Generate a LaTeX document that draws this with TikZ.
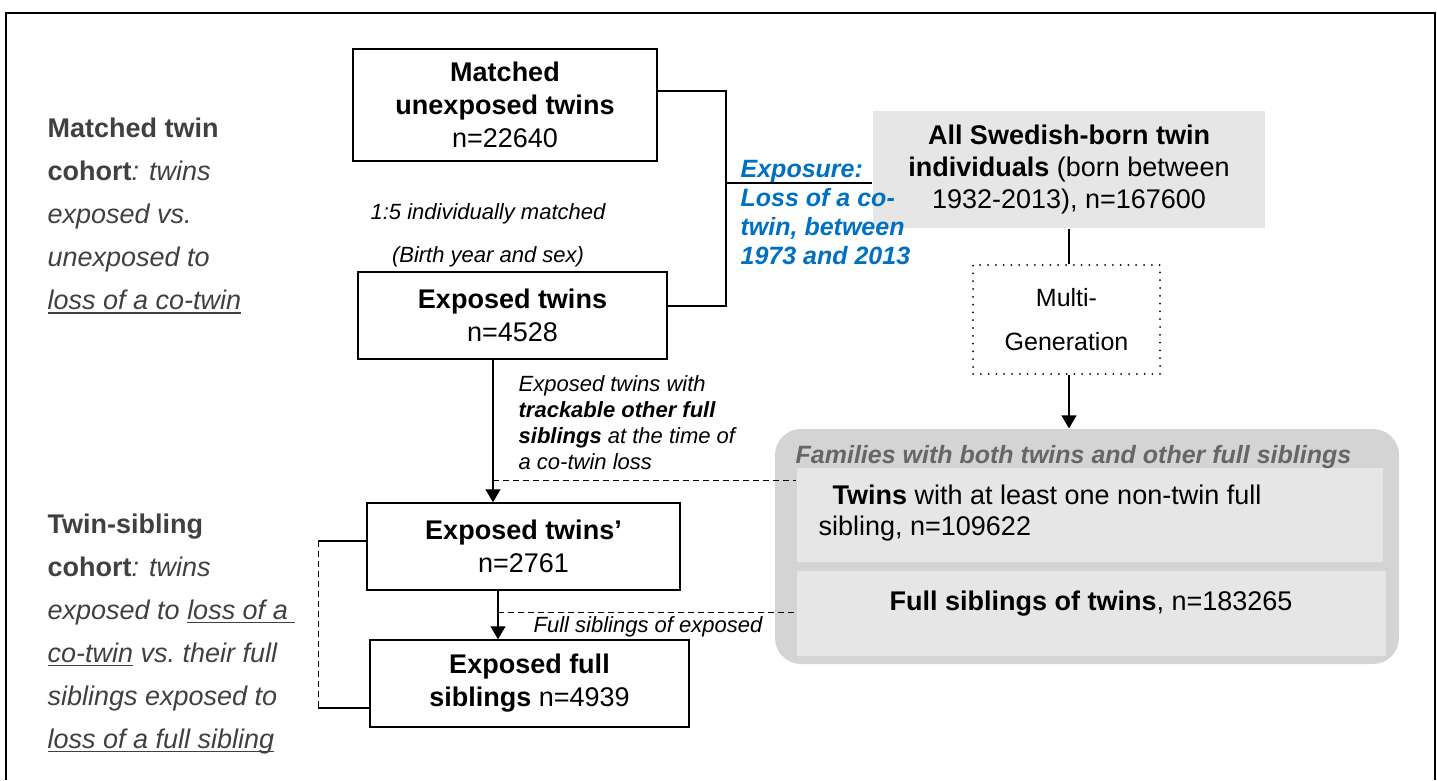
\documentclass[tikz,border=0pt]{standalone}
\usepackage{fontspec}
\setmainfont{Liberation Sans}
\usetikzlibrary{arrows.meta}
\definecolor{expblue}{HTML}{0070C0}
\definecolor{labgray}{HTML}{404040}
\definecolor{titlegray}{HTML}{666666}
\definecolor{boxgray}{HTML}{E6E6E6}
\definecolor{famgray}{HTML}{D4D4D4}
\newcommand{\undl}[1]{\setbox0\hbox{#1}\rlap{\raisebox{-4pt}{\rule{\wd0}{1.6pt}}}\box0\relax}

\begin{document}
\begin{tikzpicture}[x=1pt, y=-1pt, line width=1.3pt,
  every node/.style = {align=center, inner sep=0pt},
  flowbox/.style 2 args = {draw, line width=1.5pt, minimum width=#1, minimum height=#2,
    font=\fontsize{27}{33}\selectfont},
  graybox/.style 2 args = {fill=boxgray, minimum width=#1, minimum height=#2},
  sidetxt/.style = {anchor=west, align=left, text=labgray, font=\fontsize{27}{43}\selectfont},
  smalltxt/.style = {font=\fontsize{22}{26}\selectfont\itshape},
  arr/.style = {-{Triangle[length=13pt,width=15pt]}},
  dashline/.style = {line width=1pt, dash pattern=on 6pt off 4pt}]
  \useasboundingbox (0,0) rectangle (1437,780);
  \draw (6,780) -- (6,13) -- (1435,13) -- (1435,780);

  % cohort labels
  \node[sidetxt] (mcoh) at (47,216) {\textbf{Matched twin}\\\textbf{cohort}\textit{: twins}\\
    \textit{exposed vs.}\\\textit{unexposed to}\\\textit{\undl{loss of a co-twin}}};
  \node[sidetxt] (scoh) at (47,634) {\textbf{Twin-sibling}\\\textbf{cohort}\textit{: twins}\\
    \textit{exposed to \undl{loss of a }}\\\textit{\undl{co-twin} vs.\ their full}\\
    \textit{siblings exposed to}\\\textit{\undl{loss of a full sibling}}};

  % matched twin cohort
  \node[flowbox={304pt}{112pt}] (unexp) at (505,105)
    {\textbf{Matched}\\\textbf{unexposed twins}\\n=22640};
  \node[font=\fontsize{22}{43}\selectfont\itshape] (match) at (488,235)
    {1:5 individually matched\\(Birth year and sex)};
  \node[flowbox={309pt}{87pt}] (exp) at (512.5,315.5) {\textbf{Exposed twins}\\n=4528};

  % source population
  \node[graybox={392pt}{117pt}, font=\fontsize{27}{32}\selectfont] (allswe) at (1069,169.5)
    {\textbf{All Swedish-born twin}\\\textbf{individuals} (born between\\1932-2013), n=167600};
  \node[draw, line width=2pt, line cap=round, dash pattern=on 0pt off 7.8pt,
    minimum width=187pt, minimum height=109pt, font=\fontsize{25}{44}\selectfont]
    (multi) at (1066.5,319.5) {Multi-\\Generation};
  \node[fill=famgray, rounded corners=26pt, minimum width=624pt, minimum height=235pt]
    (fam) at (1087,546.5) {};
  \node[graybox={586pt}{94pt}] (in1) at (1090,515) {};
  \node[graybox={589pt}{85pt}] (in2) at (1091.5,613.5) {};
  \node[anchor=west, text=titlegray, font=\fontsize{25}{30}\selectfont\bfseries\itshape]
    (famtitle) at (795,457) {Families with both twins and other full siblings};
  \node[anchor=west, align=left, font=\fontsize{27}{31}\selectfont] (in1txt) at (818,513.5)
    {\hspace{14pt}\textbf{Twins} with at least one non-twin full\\sibling, n=109622};
  \node[font=\fontsize{27}{31}\selectfont] (in2txt) at (1091,604)
    {\textbf{Full siblings of twins}, n=183265};

  % exposure bracket
  \coordinate (jn) at (726,183);
  \draw ([yshift=14pt]unexp.east) -| (jn) |- ([yshift=9.5pt]exp.east);
  \draw (jn) -- (jn -| allswe.west);
  \node[anchor=west, align=left, text=expblue, font=\fontsize{25}{29}\selectfont\bfseries\itshape]
    (expo) at (740,213) {Exposure:\\Loss of a co-\\twin, between\\1973 and 2013};
  \draw (allswe.south) -- (allswe.south |- multi.north);
  \draw[arr] (allswe.south |- multi.south) -- (allswe.south |- fam.north);

  % twin-sibling cohort
  \node[flowbox={313pt}{87pt}] (exp2) at (523.5,546.5) {\textbf{Exposed twins’}\\n=2761};
  \node[flowbox={319pt}{87pt}] (sib) at (529.5,683.5)
    {\textbf{Exposed full}\\\textbf{siblings} n=4939};
  \node[smalltxt, anchor=west, align=left] (track) at (518,423)
    {Exposed twins with\\\textbf{trackable other full}\\\textbf{siblings} at the time of\\a co-twin loss};
  \node[smalltxt, anchor=west] (fsexp) at (533,627) {Full siblings of exposed};
  \coordinate (a1) at (493,359);
  \coordinate (a2) at (498,590);
  \draw[arr] (a1) -- (a1 |- exp2.north);
  \draw[arr] (a2) -- (a2 |- sib.north);
  \draw[dashline] (a1 |- 0,480) -- (in1.west |- 0,480);
  \draw[dashline] (a2 |- 0,612) -- (in2.west |- 0,612);
  \coordinate (b1) at (318,541);
  \coordinate (b2) at (318,708);
  \draw (exp2.west |- b1) -- (b1);
  \draw[dashline] (b1) -- (b2);
  \draw (b2) -- (sib.west |- b2);
\end{tikzpicture}
\end{document}
